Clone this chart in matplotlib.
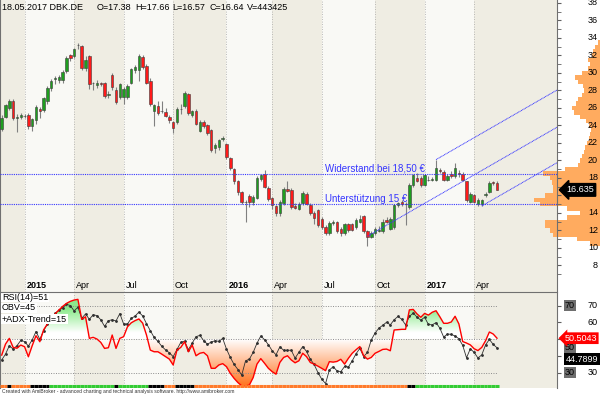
import numpy as np
import matplotlib
matplotlib.use("Agg")
import matplotlib.pyplot as plt
import matplotlib.transforms as mtransforms
from matplotlib.path import Path
from matplotlib.collections import LineCollection

plt.rcParams['font.family'] = ['Liberation Sans', 'DejaVu Sans']
plt.rcParams['font.size'] = 6.5

# weekly candles DBK.DE, week of 17.11.2014 .. 18.05.2017
opens = [23.6, 25.0, 26.0, 26.8, 24.8, 25.0, 25.1, 25.2, 23.9, 24.6,
         25.9, 25.8, 26.8, 28.3, 29.3, 29.2, 29.2, 30.2, 32.0, 31.9,
         33.2, 33.1, 30.6, 31.9, 28.8, 28.6, 28.9, 28.8, 27.5, 29.8,
         28.1, 27.3, 27.3, 27.3, 28.9, 30.3, 30.3, 31.8, 30.8, 29.1,
         25.6, 26.2, 25.6, 25.5, 25.0, 24.4, 24.4, 25.9, 26.2, 27.6,
         25.2, 25.7, 23.4, 24.4, 24.0, 23.5, 21.4, 21.5, 22.5, 21.9,
         20.3, 19.0, 17.6, 16.4, 15.2, 15.9, 15.3, 15.7, 17.9, 18.5,
         16.9, 15.7, 14.8, 14.0, 15.1, 16.7, 16.6, 14.8, 14.5, 15.1,
         16.2, 14.9, 14.0, 14.3, 13.3, 12.4, 11.7, 12.8, 13.0, 12.2,
         11.7, 12.7, 12.7, 12.4, 13.0, 13.7, 11.9, 11.3, 11.7, 11.9,
         11.9, 13.2, 12.2, 12.4, 14.9, 15.3, 15.0, 14.7, 17.2, 18.0,
         18.0, 17.2, 17.8, 17.8, 17.8, 18.9, 18.7, 17.8, 18.5, 18.2,
         18.6, 18.5, 17.6, 15.3, 16.0, 15.0, 15.0, 16.0, 16.4, 17.5,
         17.38]
highs = [25.2, 26.5, 27.0, 27.0, 25.3, 25.4, 25.3, 25.4, 24.9, 26.3,
         26.1, 27.3, 28.5, 29.3, 29.6, 29.8, 30.3, 31.9, 32.2, 32.9,
         33.4, 33.2, 31.9, 32.0, 29.0, 29.2, 29.0, 29.0, 27.9, 30.0,
         28.4, 28.9, 28.4, 28.7, 30.6, 30.9, 32.2, 32.0, 31.0, 29.4,
         26.5, 26.8, 26.8, 26.0, 25.2, 24.5, 26.1, 26.4, 27.9, 27.7,
         25.8, 25.9, 24.6, 24.6, 24.2, 23.6, 22.0, 22.5, 22.8, 22.0,
         20.4, 19.1, 17.8, 16.5, 15.5, 16.2, 16.0, 18.2, 18.4, 18.9,
         17.1, 15.8, 14.9, 15.5, 17.0, 17.6, 16.8, 15.1, 15.2, 16.5,
         16.4, 15.1, 14.2, 14.5, 13.5, 12.6, 13.1, 13.2, 13.1, 12.4,
         12.9, 12.8, 12.9, 13.4, 13.8, 13.8, 12.0, 11.9, 12.4, 12.5,
         13.3, 13.5, 13.5, 15.0, 15.2, 15.5, 15.3, 17.4, 18.5, 18.6,
         18.2, 18.5, 18.2, 18.1, 20.1, 19.1, 18.9, 18.4, 18.8, 19.7,
         18.9, 18.7, 17.7, 16.4, 16.2, 15.7, 15.6, 16.4, 17.6, 17.7,
         17.66]
lows = [23.4, 24.8, 25.8, 24.6, 23.3, 24.7, 24.9, 23.6, 23.4, 24.2,
        24.8, 25.5, 26.5, 27.9, 28.7, 28.9, 28.9, 30.0, 31.4, 31.7,
        32.7, 30.3, 30.2, 28.2, 28.0, 28.3, 28.5, 27.1, 27.1, 28.1,
        26.5, 27.0, 26.5, 27.0, 28.7, 30.0, 29.1, 30.5, 28.7, 26.2,
        23.9, 25.2, 25.4, 25.0, 24.3, 23.1, 24.2, 25.3, 26.0, 25.2,
        25.0, 24.0, 23.2, 23.7, 22.9, 21.0, 20.8, 21.2, 22.2, 20.2,
        18.9, 17.3, 16.0, 15.0, 13.0, 14.7, 14.9, 15.6, 17.7, 16.9,
        15.4, 14.5, 13.6, 13.7, 14.9, 16.4, 14.5, 14.4, 14.3, 14.9,
        14.9, 13.8, 12.7, 12.4, 12.2, 11.5, 11.5, 12.6, 11.7, 11.4,
        11.5, 11.8, 11.9, 12.2, 12.9, 11.7, 10.2, 11.1, 11.5, 11.8,
        11.7, 12.8, 12.0, 12.2, 14.7, 14.8, 12.6, 14.4, 17.0, 17.5,
        17.0, 17.1, 17.6, 17.6, 17.7, 18.6, 17.6, 17.6, 18.0, 18.0,
        18.1, 17.6, 15.3, 15.1, 15.1, 14.8, 14.8, 15.8, 16.3, 17.2,
        16.57]
closes = [24.9, 26.3, 26.8, 24.8, 25.0, 25.2, 25.1, 23.9, 24.7, 26.1,
          25.7, 27.1, 28.3, 29.1, 29.4, 29.5, 30.1, 31.7, 31.7, 32.7,
          33.2, 30.6, 31.5, 28.7, 28.8, 28.9, 28.7, 27.4, 27.6, 28.4,
          26.7, 28.7, 28.2, 28.5, 30.4, 30.7, 31.9, 30.7, 28.9, 26.4,
          26.3, 25.4, 25.6, 25.1, 24.6, 23.7, 25.9, 25.9, 27.7, 25.4,
          25.6, 24.2, 24.4, 23.9, 23.1, 21.2, 21.8, 22.3, 22.6, 20.4,
          19.1, 17.6, 16.4, 15.2, 15.2, 15.2, 15.8, 18.0, 18.3, 17.0,
          15.6, 14.9, 14.0, 15.3, 16.7, 16.5, 14.7, 14.6, 15.0, 16.3,
          15.0, 14.0, 13.4, 12.6, 12.4, 11.7, 12.9, 13.0, 11.9, 11.7,
          12.7, 12.0, 12.0, 13.2, 13.3, 11.9, 11.3, 11.7, 12.2, 12.1,
          13.0, 13.0, 13.3, 14.9, 15.1, 15.0, 15.0, 17.2, 18.3, 17.7,
          17.2, 18.3, 17.8, 17.9, 19.1, 18.8, 17.8, 18.2, 18.2, 19.1,
          18.5, 17.8, 15.5, 16.2, 15.3, 15.5, 15.5, 16.2, 17.4, 17.4,
          16.64]

rsi = [40.4, 47.0, 50.4, 45.0, 44.5, 46.4, 45.4, 39.4, 46.0, 52.0,
       48.4, 55.5, 59.0, 62.0, 65.0, 67.3, 69.5, 71.3, 72.5, 73.3,
       73.7, 61.8, 63.3, 50.4, 51.0, 50.0, 48.0, 44.4, 44.8, 52.4,
       44.4, 50.4, 51.4, 57.3, 59.7, 61.0, 62.0, 59.5, 52.4, 43.4,
       42.4, 42.4, 41.0, 39.5, 38.0, 34.5, 43.4, 45.0, 48.4, 42.4,
       46.4, 40.0, 41.5, 42.0, 40.0, 32.5, 32.5, 34.5, 35.3, 33.5,
       29.5, 26.5, 24.0, 22.0, 22.0, 22.5, 27.0, 35.0, 38.3, 35.5,
       32.5, 30.5, 29.0, 36.0, 39.0, 40.0, 37.5, 35.8, 37.0, 41.5,
       39.5, 36.0, 35.0, 33.8, 32.5, 31.1, 36.5, 36.2, 36.6, 37.9,
       35.0, 38.5, 41.5, 43.6, 45.5, 40.0, 38.0, 39.0, 41.5, 42.6,
       43.8, 44.0, 43.0, 55.4, 55.6, 55.8, 55.8, 67.4, 67.7, 65.0,
       63.0, 65.3, 64.3, 66.0, 66.9, 63.3, 59.4, 59.4, 60.2, 63.6,
       59.0, 48.5, 47.6, 46.5, 44.2, 43.1, 45.0, 49.0, 54.2, 53.0,
       50.5]
obv = [37.5, 41.0, 46.0, 44.0, 46.0, 49.2, 48.5, 45.8, 49.5, 54.5,
       49.8, 55.0, 59.0, 61.0, 65.3, 67.2, 68.7, 70.8, 70.0, 66.8,
       69.0, 62.4, 65.0, 61.8, 64.5, 64.0, 61.5, 57.6, 61.0, 61.5,
       60.8, 65.2, 59.0, 59.0, 62.3, 63.7, 66.1, 63.8, 59.2, 55.0,
       51.0, 48.6, 45.7, 43.5, 41.8, 39.5, 43.8, 48.0, 48.8, 43.6,
       47.6, 51.4, 52.2, 49.1, 46.9, 48.2, 49.0, 48.6, 50.4, 44.0,
       39.0, 34.8, 31.8, 28.5, 37.0, 38.0, 42.0, 47.5, 51.8, 49.6,
       46.6, 43.0, 40.6, 45.3, 43.3, 43.3, 43.3, 38.6, 42.0, 45.5,
       42.6, 38.0, 34.8, 30.0, 26.0, 23.4, 31.5, 33.5, 31.0, 30.5,
       33.6, 33.3, 37.0, 41.2, 44.4, 39.5, 42.0, 49.5, 53.6, 56.5,
       58.2, 60.0, 58.5, 61.5, 63.5, 61.8, 58.5, 63.5, 65.5, 63.1,
       61.3, 63.0, 58.7, 58.5, 59.8, 56.5, 51.2, 53.0, 52.8, 51.8,
       50.2, 46.2, 38.8, 44.2, 42.0, 38.7, 40.5, 46.5, 49.8, 46.8,
       44.8]
adx_runs = [('o', 2), ('k', 1), ('o', 5), ('k', 5), ('g', 17), ('k', 1),
            ('g', 8), ('k', 4), ('o', 3), ('k', 5), ('o', 56), ('k', 2), ('g', 22)]

quarter_bars = [6, 19, 32, 45, 59, 71, 84, 98, 111, 124]
quarter_labels = ["2015", "Apr", "Jul", "Oct", "2016", "Apr", "Jul", "Oct", "2017", "Apr"]

resistance = 18.5
support = 15.0
chan_x0 = [96, 114, 126]
chan_y0 = [11.35, 20.1, 14.8]
chan_x1 = 145.75
chan_y1 = [23.8, 28.05, 19.75]

prof_price = [10.5, 11.0, 11.5, 12.0, 12.5, 13.0, 13.5, 14.0, 14.5, 15.0,
              15.5, 16.0, 16.5, 17.0, 17.5, 18.0, 18.5, 19.0, 19.5, 20.0,
              20.5, 21.0, 21.5, 22.0, 22.5, 23.0, 23.5, 24.0, 24.5, 25.0,
              25.5, 26.0, 26.5, 27.0, 27.5, 28.0, 28.5, 29.0, 29.5, 30.0,
              30.5, 31.0, 31.5, 32.0, 32.5, 33.0, 33.5]
prof_vol = [10, 23, 47, 50, 55, 55, 33, 20, 33, 60,
            66, 55, 47, 47, 48, 50, 57, 35, 22, 20,
            18, 16, 15, 13, 11, 10, 9, 11, 14, 20,
            26, 28, 24, 22, 18, 16, 17, 22, 25, 18,
            12, 10, 12, 8, 7, 5, 2]

W, H = 600, 395
def frect(x0, y0, x1, y1):
    return [x0 / W, 1 - y1 / H, (x1 - x0) / W, (y1 - y0) / H]

xlim = (-0.45, 145.75)
ylim = (4.97, 38.34)
n = len(closes)
xb = np.arange(n)
beige, white = '#efede3', '#f9f9f5'
edges = [xlim[0]] + quarter_bars + [xlim[1]]

fig = plt.figure(figsize=(6, 3.95), dpi=100)

# background bands of the price pane
bg = fig.add_axes(frect(0, 0, 557, 292), zorder=0)
for k in range(len(edges) - 1):
    bg.axvspan(edges[k], edges[k + 1], color=beige if k % 2 == 0 else white, lw=0)
bg.set_xlim(xlim); bg.set_ylim(ylim); bg.axis('off')

# volume at price profile
prof = fig.add_axes(frect(500, 0, 600, 292), zorder=1)
prof.barh(prof_price, prof_vol, height=0.5, color='#ffab5f', lw=0)
prof.set_xlim(100, 0); prof.set_ylim(ylim); prof.axis('off')
prof.patch.set_visible(False)

ax = fig.add_axes(frect(0, 0, 557, 292), zorder=2)
ax.patch.set_visible(False)
ax.set_xlim(xlim); ax.set_ylim(ylim)
for q in quarter_bars:
    ax.axvline(q, color='#a8a8a8', lw=0.6, ls=(0, (1, 2)), zorder=1)

ax.vlines(xb, lows, highs, color='#808080', lw=0.8, zorder=3)
cols = ['#1e9e1e' if cc >= oo else '#ff1a1a' for oo, cc in zip(opens, closes)]
ax.bar(xb, np.array(closes) - np.array(opens), bottom=opens, width=0.65,
       color=cols, edgecolor='#3c3c3c', lw=0.4, zorder=4)

blue = '#3535ff'
for lvl in (resistance, support):
    ax.axhline(lvl, color=blue, lw=0.8, ls=(0, (1, 1)), zorder=5)
for x0, y0, y1 in zip(chan_x0, chan_y0, chan_y1):
    ax.plot([x0, chan_x1], [y0, y1], color=blue, lw=0.7, ls=(0, (1, 0.6)), zorder=5)
ax.text(84.9, 19.1, "Widerstand bei 18,50 €", color=blue, fontsize=7, va='center', zorder=6)
ax.text(84.9, 15.55, "Unterstützung 15 €", color=blue, fontsize=7, va='center', zorder=6)

# date labels inside the pane
xt = mtransforms.blended_transform_factory(ax.transData, ax.transAxes)
for q, lab in zip(quarter_bars, quarter_labels):
    ax.text(q + 0.5, 6 / 292, lab, transform=xt, fontsize=6.5, va='center',
            fontweight='bold' if lab.isdigit() else 'normal')

ax.set_xticks([])
ax.yaxis.tick_right()
ax.set_yticks(range(8, 39, 2))
ax.set_yticks(range(7, 39, 2), minor=True)
ax.tick_params(axis='y', which='both', length=3, color='#606060', labelright=False)
yt = mtransforms.blended_transform_factory(ax.transAxes, ax.transData)
for v in range(8, 39, 2):
    if v == 16:
        continue  # hidden behind the last-price label
    ax.text(598 / 557, v, str(v), transform=yt, ha='right', va='center', fontsize=6.5)
ax.text(580 / 557, closes[-1], "16.635", transform=yt, ha='center', va='center',
        color='white', fontsize=6.5, zorder=8,
        bbox=dict(boxstyle='larrow,pad=0.2', fc='black', ec='black'))
ax.spines['top'].set_visible(False)
for s in ('left', 'right', 'bottom'):
    ax.spines[s].set_color('#707070'); ax.spines[s].set_linewidth(0.8)

fig.text(2 / W, 1 - 7 / H, "18.05.2017 DBK.DE", va='center', fontsize=6.5)
for xp, s in zip([97, 135, 172, 210, 247],
                 ["O=17.38", "H=17.66", "L=16.57", "C=16.64", "V=443425"]):
    fig.text(xp / W, 1 - 7 / H, s, va='center', fontsize=6.5)

# indicator pane
sub = fig.add_axes(frect(0, 293, 557, 388))
sub.set_xlim(xlim); sub.set_ylim(20.75, 77.5)
for k in range(len(edges) - 1):
    sub.axvspan(edges[k], edges[k + 1], color=beige if k % 2 == 0 else white, lw=0, zorder=0)
for q in quarter_bars:
    sub.axvline(q, color='#a8a8a8', lw=0.6, ls=(0, (1, 2)), zorder=1)

vals = np.linspace(20.75, 77.5, 300)
grad = np.ones((300, 1, 3))
green = np.array([0.55, 0.92, 0.55]); orange = np.array([1.0, 0.47, 0.15])
for i, v in enumerate(vals):
    if v >= 50:
        t = np.clip((v - 54) / 14, 0, 1); grad[i, 0] = (1 - t) + t * green
    else:
        t = np.clip((50 - v) / 27, 0, 1); grad[i, 0] = (1 - t) + t * orange
im = sub.imshow(grad, origin='lower', aspect='auto', extent=[xlim[0], xlim[1], 20.75, 77.5], zorder=1.5)
fb = sub.fill_between(xb, rsi, 50, interpolate=True, facecolor='none', edgecolor='none')
im.set_clip_path(Path.make_compound_path(*fb.get_paths()), transform=sub.transData)

for lvl in (30, 50, 70):
    sub.plot([0, n - 1], [lvl, lvl], color='#8c8c8c', lw=0.7, ls=(0, (1, 1.5)), zorder=2)
sub.plot(xb, obv, color='#303030', lw=0.6, marker='o', ms=1.0, zorder=4)
sub.plot(xb, rsi, color='#ff0000', lw=1.0, zorder=5)

cmap = {'o': '#ff7a2a', 'k': '#000000', 'g': '#33cc33'}
segs, scol, i0 = [], [], 0
for key, cnt in adx_runs:
    for i in range(i0, i0 + cnt):
        segs.append([(i - 0.5, 21.9), (i + 0.5, 21.9)]); scol.append(cmap[key])
    i0 += cnt
sub.add_collection(LineCollection(segs, colors=scol, lw=2.2, zorder=6))

sub.set_xticks([])
sub.yaxis.tick_right()
sub.set_yticks(range(30, 71, 10))
sub.tick_params(axis='y', length=3, color='#606060', labelright=False)
st = mtransforms.blended_transform_factory(sub.transAxes, sub.transData)
for v in (30, 60, 70):  # 40 and 50 sit behind the value labels
    sub.text(598 / 557, v, str(v), transform=st, ha='right', va='center', fontsize=6.5)
for v, s in [(70, "70"), (45.0, "50"), (30, "30")]:
    sub.text(570 / 557, v, s, transform=st, ha='center', va='center', fontsize=6.5,
             bbox=dict(boxstyle='square,pad=0.15', fc='#6e6e6e', ec='none'))
sub.text(581 / 557, rsi[-1], "50.5043", transform=st, ha='center', va='center',
         color='white', fontsize=6.5, bbox=dict(boxstyle='larrow,pad=0.15', fc='#ff0000', ec='none'))
sub.text(582 / 557, 37.9, "44.7899", transform=st, ha='center', va='center',
         color='white', fontsize=6.5, bbox=dict(boxstyle='square,pad=0.15', fc='black', ec='none'))
for j, s in enumerate(["RSI(14)=51", "OBV=45", "+ADX-Trend=15"]):
    sub.text(2 / 557, 1 - (4 + 11 * j) / 95, s, transform=sub.transAxes, va='center', fontsize=6.5,
             zorder=7, bbox=dict(boxstyle='square,pad=0.1', fc='white', ec='none'))
sub.spines['top'].set_visible(False); sub.spines['bottom'].set_visible(False)
for s in ('left', 'right'):
    sub.spines[s].set_color('#707070'); sub.spines[s].set_linewidth(0.8)

fig.text(2 / W, 1 - 391 / H, "Created with AmiBroker - advanced charting and technical analysis software. http://www.amibroker.com",
         fontsize=3.6, va='center', color='#333333')

fig.savefig("out.png", dpi=100)
